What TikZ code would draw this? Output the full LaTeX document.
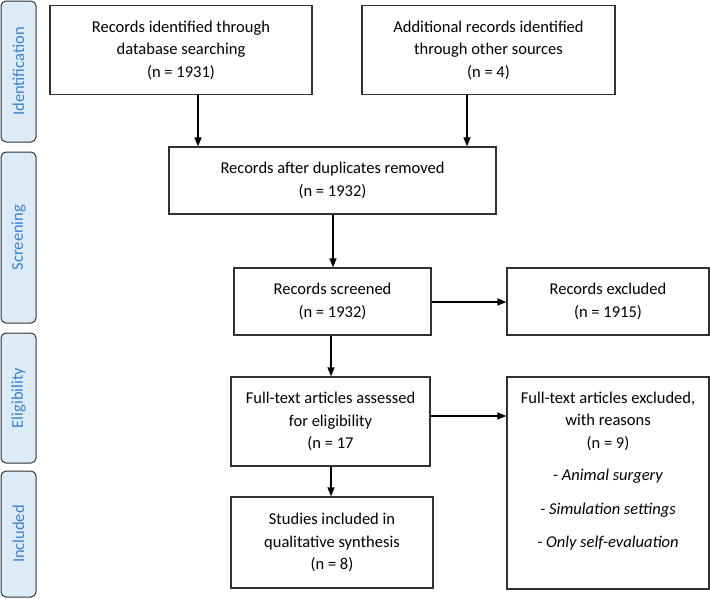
\documentclass[tikz,border=0pt]{standalone}
\usepackage{fontspec}
\setmainfont{Carlito}
\usetikzlibrary{arrows.meta}
\definecolor{sidefill}{RGB}{221,235,247}
\definecolor{sidetext}{RGB}{60,130,205}
\definecolor{boxline}{RGB}{50,50,50}
\begin{document}
\begin{tikzpicture}[x=1pt,y=-1pt,
  box/.style={draw=boxline, line width=1.3pt, align=center, inner sep=0pt,
    font=\fontsize{16.5}{22.5}\selectfont},
  sidebar/.style={draw=boxline, line width=1pt, fill=sidefill, rounded corners=5pt,
    text=sidetext, rotate=90, inner sep=0pt, minimum height=35pt,
    font=\fontsize{16.5}{18}\selectfont},
  txt/.style={align=center, inner sep=0pt, font=\fontsize{16.5}{22.5}\selectfont},
  arr/.style={-{Triangle[length=9pt,width=7pt]}, line width=1.5pt, draw=black}]
\useasboundingbox (0,0) rectangle (710,598);
% side bars
\node[sidebar, minimum width=141pt] (sid) at (18.5,71.5) {Identification};
\node[sidebar, minimum width=171pt] (ssc) at (18.5,237.5) {Screening};
\node[sidebar, minimum width=130pt] (sel) at (18.5,398) {Eligibility};
\node[sidebar, minimum width=126pt] (sin) at (18.5,534) {Included};
% boxes
\node[box, minimum width=262pt, minimum height=89pt] (b1) at (181,50)
  {Records identified through\\database searching\\(n = 1931)};
\node[box, minimum width=253pt, minimum height=89pt] (b2) at (488.5,50)
  {Additional records identified\\through other sources\\(n = 4)};
\node[box, minimum width=327pt, minimum height=67pt] (b3) at (332.5,180.5)
  {Records after duplicates removed\\(n = 1932)};
\node[box, minimum width=197pt, minimum height=67pt] (b4) at (332.5,301.5)
  {Records screened\\(n = 1932)};
\node[box, minimum width=202pt, minimum height=67pt] (b5) at (608,301.5)
  {Records excluded\\(n = 1915)};
\node[box, minimum width=199pt, minimum height=89pt] (b6) at (330.5,421.5)
  {Full-text articles assessed\\for eligibility\\(n = 17};
\node[box, minimum width=202pt, minimum height=212pt] (b7) at (608,483) {};
\node[txt] (b7t) at (608,471)
  {Full-text articles excluded,\\with reasons\\(n = 9)\\[10pt]
   \itshape - Animal surgery\\[11pt]\itshape - Simulation settings\\[11pt]
   \itshape - Only self-evaluation};
\node[box, minimum width=202pt, minimum height=91pt] (b8) at (332,542.5)
  {Studies included in\\qualitative synthesis\\(n = 8)};
% connectors
\draw[arr] ([xshift=17pt]b1.south) -- ([xshift=17pt]b1.south |- b3.north);
\draw[arr] ([xshift=-21.5pt]b2.south) -- ([xshift=-21.5pt]b2.south |- b3.north);
\draw[arr] ([xshift=0.5pt]b3.south) -- ([xshift=0.5pt]b3.south |- b4.north);
\draw[arr] ([yshift=-0.5pt]b4.east) -- ([yshift=-0.5pt]b4.east -| b5.west);
\draw[arr] ([xshift=-1.5pt]b4.south) -- ([xshift=-1.5pt]b4.south |- b6.north);
\draw[arr] ([yshift=5.5pt]b6.east) -- ([yshift=5.5pt]b6.east -| b7.west);
\draw[arr] ([xshift=0.5pt]b6.south) -- ([xshift=0.5pt]b6.south |- b8.north);
\end{tikzpicture}
\end{document}
